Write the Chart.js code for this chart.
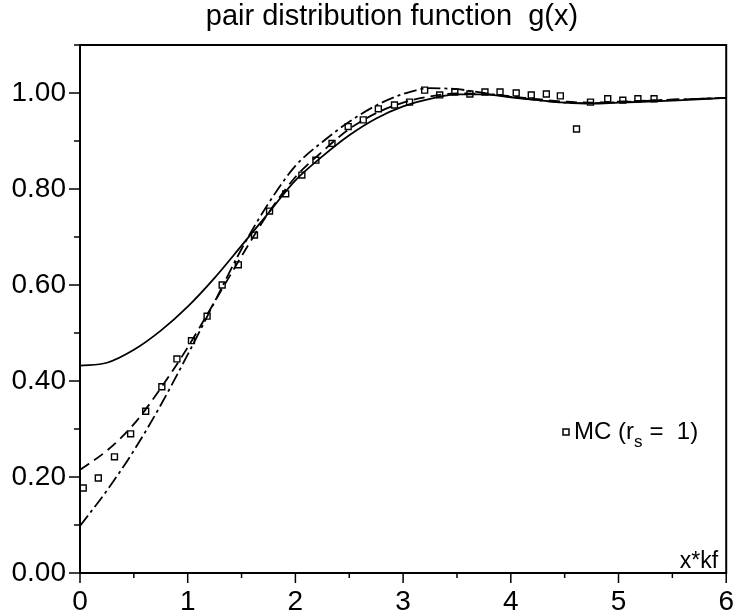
<!DOCTYPE html>
<html>
<head>
<meta charset="utf-8">
<script src="https://cdn.jsdelivr.net/npm/chart.js@4.4.0/dist/chart.umd.min.js"></script>
<style>
  html, body { margin: 0; padding: 0; background: #fff; }
  #wrap { width: 736px; height: 616px; }
</style>
</head>
<body>
<div id="wrap"><canvas id="chart" width="736" height="616"></canvas></div>
<script>
// curve samples (x*kf)
const xGrid = [0, 0.25, 0.5, 0.75, 1, 1.25, 1.5, 1.75, 2, 2.25, 2.5, 2.75, 3, 3.25, 3.5, 3.75, 4, 4.25, 4.5, 4.75, 5, 5.5, 6];
const solidG = [0.432, 0.438, 0.465, 0.505, 0.555, 0.615, 0.682, 0.75, 0.818, 0.868, 0.912, 0.947, 0.972, 0.988, 0.997, 0.997, 0.991, 0.985, 0.98, 0.978, 0.98, 0.984, 0.99];
const dashedG = [0.215, 0.255, 0.31, 0.385, 0.47, 0.565, 0.66, 0.75, 0.825, 0.878, 0.925, 0.958, 0.98, 0.993, 0.999, 0.998, 0.993, 0.987, 0.982, 0.98, 0.982, 0.986, 0.99];
const dashDotG = [0.098, 0.172, 0.255, 0.35, 0.455, 0.565, 0.675, 0.77, 0.848, 0.898, 0.94, 0.974, 0.998, 1.01, 1.008, 1.0, 0.992, 0.985, 0.98, 0.979, 0.981, 0.986, 0.99];

// Monte Carlo points
const mcX = [0.03, 0.17, 0.32, 0.47, 0.61, 0.76, 0.90, 1.035, 1.18, 1.32, 1.47, 1.62, 1.76, 1.91, 2.06, 2.19, 2.34, 2.49, 2.63, 2.77, 2.92, 3.06, 3.2, 3.34, 3.48, 3.62, 3.76, 3.90, 4.05, 4.19, 4.33, 4.46, 4.61, 4.74, 4.9, 5.04, 5.18, 5.33];
const mcY = [0.177, 0.198, 0.242, 0.29, 0.337, 0.388, 0.446, 0.484, 0.535, 0.60, 0.642, 0.704, 0.754, 0.79, 0.829, 0.86, 0.895, 0.93, 0.944, 0.967, 0.975, 0.981, 1.006, 0.996, 1.002, 0.998, 1.002, 1.002, 1.0, 0.996, 0.998, 0.994, 0.925, 0.981, 0.988, 0.985, 0.988, 0.988];

const yTickLabels = ['0.00', '0.20', '0.40', '0.60', '0.80', '1.00'];
const xTickLabels = ['0', '1', '2', '3', '4', '5', '6'];

const FONT = 'Liberation Sans, Arial, sans-serif';
const pts = (xs, ys) => xs.map((x, i) => ({ x, y: ys[i] }));

const frame = {
  id: 'frame',
  afterDraw(chart) {
    const { ctx, chartArea: a, scales: { x, y } } = chart;
    ctx.save();
    ctx.strokeStyle = '#000';
    ctx.lineWidth = 2;
    ctx.strokeRect(a.left, a.top, a.right - a.left, a.bottom - a.top);
    ctx.lineWidth = 1.5;
    y.ticks.forEach(t => {
      const py = y.getPixelForValue(t.value);
      const major = Math.round(t.value * 10) % 2 === 0;
      ctx.beginPath(); ctx.moveTo(a.left - (major ? 11 : 6), py); ctx.lineTo(a.left, py); ctx.stroke();
    });
    x.ticks.forEach(t => {
      const px = x.getPixelForValue(t.value);
      const major = Math.round(t.value * 2) % 2 === 0;
      ctx.beginPath(); ctx.moveTo(px, a.bottom); ctx.lineTo(px, a.bottom + (major ? 10 : 5)); ctx.stroke();
    });

    // title
    ctx.fillStyle = '#000';
    ctx.font = `29px ${FONT}`;
    ctx.textAlign = 'center';
    ctx.textBaseline = 'middle';
    ctx.fillText('pair distribution function  g(x)', 392, 17);

    // axis name inside plot
    ctx.font = `23px ${FONT}`;
    ctx.textAlign = 'right';
    ctx.textBaseline = 'alphabetic';
    ctx.fillText('x*kf', a.right - 8, a.bottom - 5);

    // legend
    const lx = 566, ly = 432;
    ctx.lineWidth = 1.5;
    ctx.fillStyle = '#fff';
    ctx.fillRect(lx - 3, ly - 3, 6, 6);
    ctx.strokeRect(lx - 3, ly - 3, 6, 6);
    ctx.fillStyle = '#000';
    ctx.font = `24px ${FONT}`;
    ctx.textAlign = 'left';
    ctx.textBaseline = 'middle';
    let tx = lx + 8;
    ctx.fillText('MC (r', tx, ly);
    tx += ctx.measureText('MC (r').width;
    ctx.font = `17px ${FONT}`;
    ctx.fillText('s', tx, ly + 10);
    tx += ctx.measureText('s').width + 7;
    ctx.font = `24px ${FONT}`;
    ctx.fillText('=  1)', tx, ly);
    ctx.restore();
  }
};

new Chart(document.getElementById('chart'), {
  type: 'line',
  data: {
    datasets: [
      { data: pts(xGrid, solidG), borderColor: '#000', borderWidth: 1.8, pointRadius: 0, cubicInterpolationMode: 'monotone' },
      { data: pts(xGrid, dashedG), borderColor: '#000', borderWidth: 1.8, borderDash: [11, 6], pointRadius: 0, cubicInterpolationMode: 'monotone' },
      { data: pts(xGrid, dashDotG), borderColor: '#000', borderWidth: 1.8, borderDash: [13, 4, 3, 4], pointRadius: 0, cubicInterpolationMode: 'monotone' },
      { data: pts(mcX, mcY), showLine: false, pointStyle: 'rect', pointRadius: 4.2, pointBorderWidth: 1.4, pointBorderColor: '#000', pointBackgroundColor: '#fff' },
    ],
  },
  options: {
    responsive: false,
    animation: false,
    devicePixelRatio: 1,
    layout: { padding: { top: 45, right: 7, left: 0, bottom: 0 } },
    plugins: { legend: { display: false }, tooltip: { enabled: false } },
    scales: {
      x: {
        type: 'linear', min: 0, max: 6,
        grid: { display: false, drawTicks: true, tickLength: 10 },
        border: { display: false },
        afterFit: s => { s.height = 43; },
        ticks: {
          stepSize: 0.5, color: '#000', padding: 2, maxRotation: 0, autoSkip: false,
          font: { family: FONT, size: 28 },
          callback: v => (Math.round(v * 2) % 2 === 0 ? xTickLabels[Math.round(v)] : ''),
        },
      },
      y: {
        min: 0, max: 1.1,
        grid: { display: false, drawTicks: true, tickLength: 11 },
        border: { display: false },
        afterFit: s => { s.width = 80; },
        ticks: {
          stepSize: 0.1, color: '#000', padding: 3, autoSkip: false,
          font: { family: FONT, size: 28 },
          callback: v => {
            const k = Math.round(v * 10);
            return k % 2 === 0 && k <= 10 ? yTickLabels[k / 2] : '';
          },
        },
      },
    },
  },
  plugins: [frame],
});
</script>
</body>
</html>
